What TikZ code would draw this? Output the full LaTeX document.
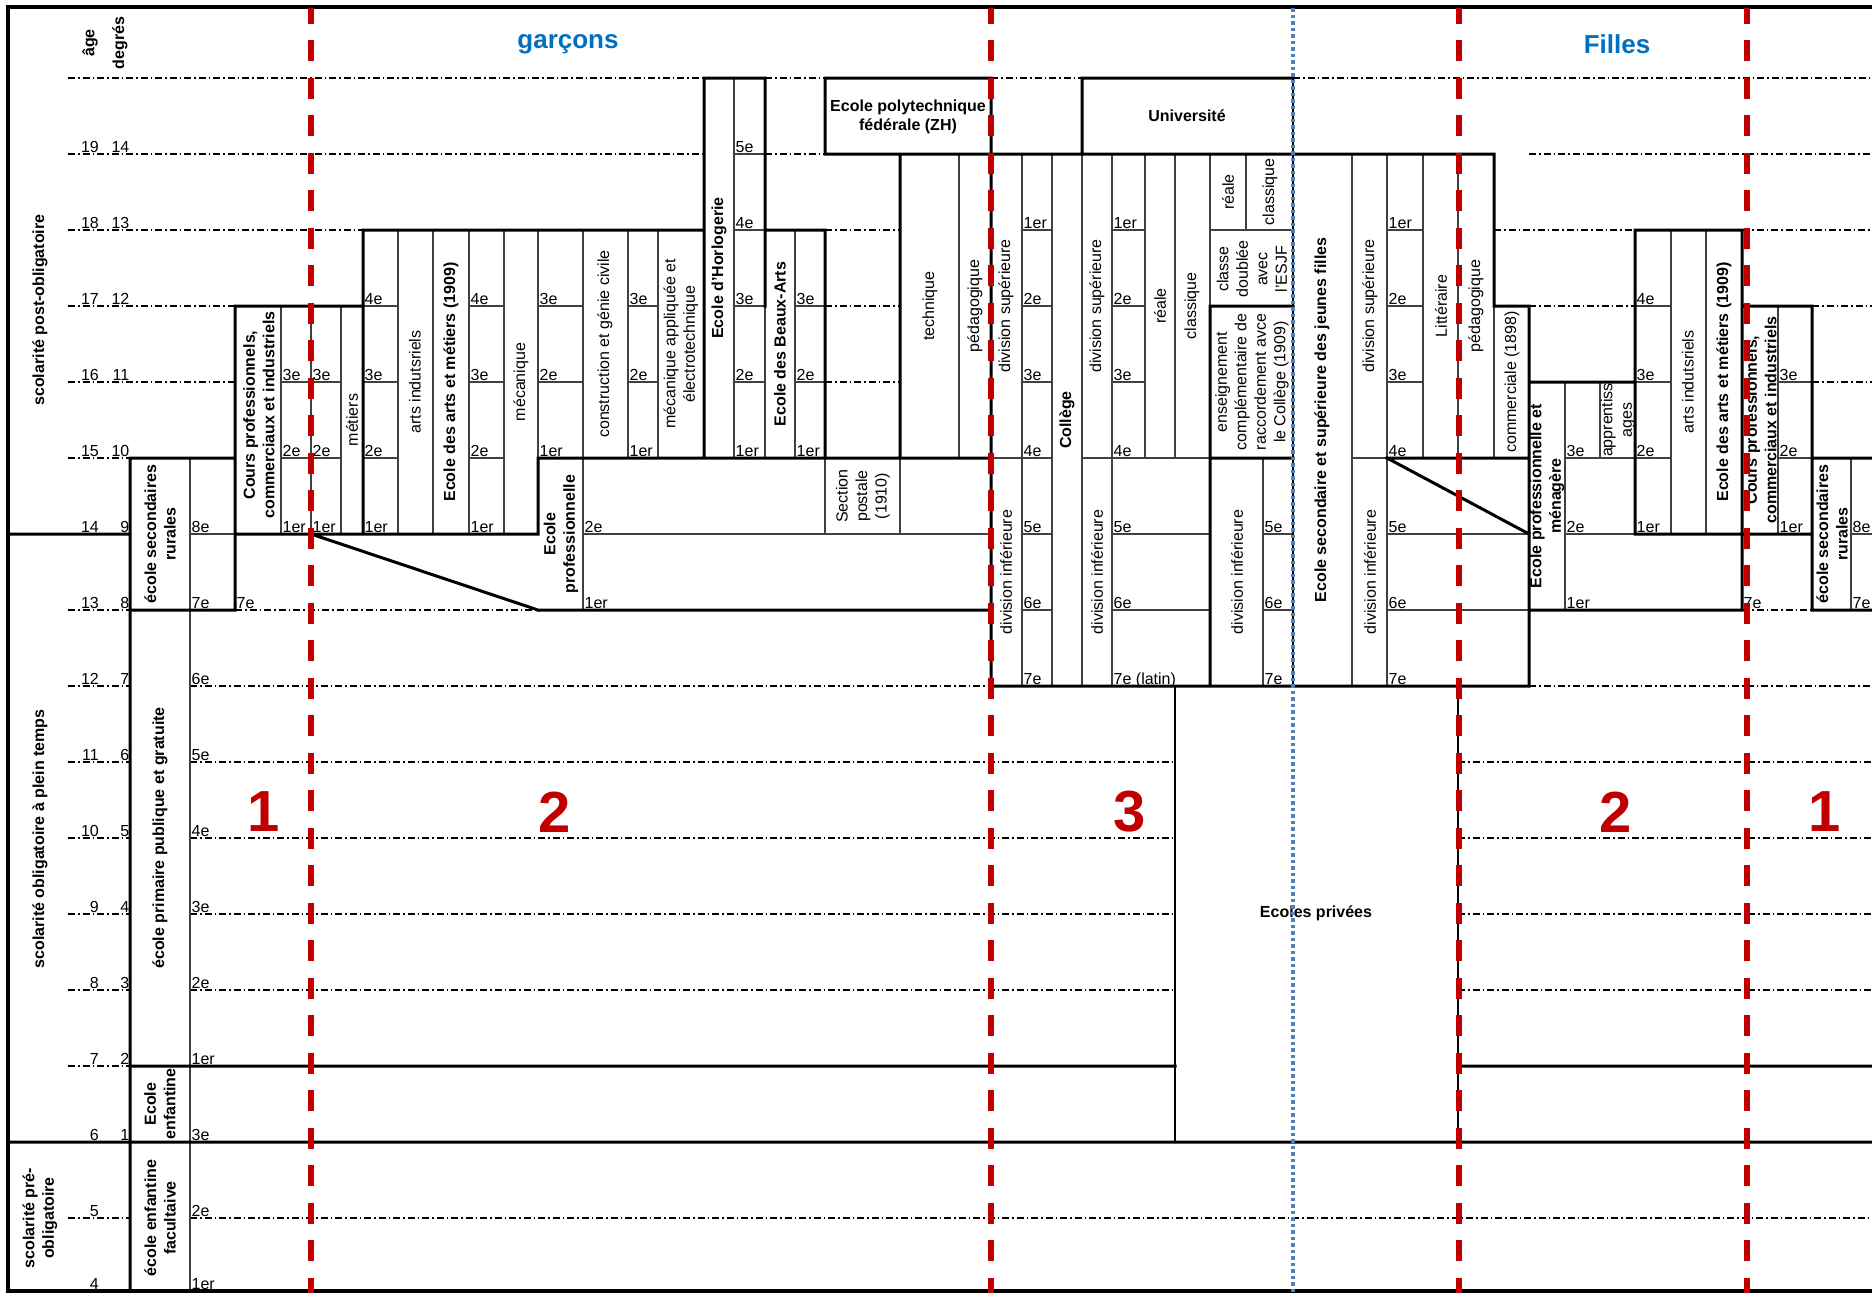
\documentclass[tikz,border=0pt]{standalone}
\usepackage{fontspec}
\setmainfont{Liberation Sans}
\usepackage{tikz}
\definecolor{splitred}{RGB}{192,0,0}
\definecolor{titleblue}{RGB}{0,112,192}
\definecolor{dotblue}{RGB}{79,129,189}
\newcommand{\cellfont}{\fontsize{16}{19.5}\selectfont}
\newcommand{\titlefont}{\fontsize{26}{30}\selectfont\bfseries}
\newcommand{\zonefont}{\fontsize{58}{62}\selectfont\bfseries}

\begin{document}
\begin{tikzpicture}[x=1pt,y=-1pt,
    gridline/.style={line width=1.1pt,dash pattern=on 7pt off 3pt on 1.5pt off 3pt},
    thinline/.style={line width=1.2pt,black!75},
    heavyline/.style={line width=3pt,line cap=rect},
    grade/.style={anchor=base west,inner sep=0pt,font=\cellfont},
    agenum/.style={anchor=base east,inner sep=0pt,font=\cellfont},
    vlabel/.style={rotate=90,align=center,inner sep=0pt,font=\cellfont},
    bvlabel/.style={rotate=90,align=center,inner sep=0pt,font=\cellfont\bfseries},
    hlabel/.style={align=center,inner sep=0pt,font=\cellfont\bfseries},
    divider/.style={splitred,line width=6pt,dash pattern=on 21pt off 16.5pt,dash phase=5.5pt},
    zonenum/.style={text=splitred,font=\zonefont}]
  \useasboundingbox (0,0) rectangle (1872,1293);

  % age lines
  \draw[gridline]
    (68,78) -- (704,78) (765,78) -- (825,78) (991,78) -- (1082,78) (1293,78) -- (1872,78)
    (68,154) -- (704,154) (765,154) -- (825,154) (1529,154) -- (1872,154)
    (68,230) -- (363,230) (825,230) -- (900,230) (1494,230) -- (1635,230) (1742,230) -- (1872,230)
    (68,306) -- (235,306) (825,306) -- (900,306) (1529,306) -- (1635,306) (1812,306) -- (1872,306)
    (68,382) -- (235,382) (825,382) -- (900,382) (1812,382) -- (1872,382)
    (68,458) -- (130,458)
    (68,610) -- (130,610) (235,610) -- (538,610) (1742,610) -- (1812,610)
    (68,686) -- (130,686) (190,686) -- (991,686) (1529,686) -- (1872,686)
    (68,762) -- (130,762) (190,762) -- (1175,762) (1458,762) -- (1872,762)
    (68,838) -- (130,838) (190,838) -- (1175,838) (1458,838) -- (1872,838)
    (68,914) -- (130,914) (190,914) -- (1175,914) (1458,914) -- (1872,914)
    (68,990) -- (130,990) (190,990) -- (1175,990) (1458,990) -- (1872,990)
    (68,1066) -- (130,1066)
    (68,1218) -- (130,1218) (190,1218) -- (1872,1218);

  % cells
  \draw[thinline]
    (734,154) -- (765,154)
    (734,230) -- (765,230) (1022,230) -- (1052,230) (1112,230) -- (1145,230)
      (1210,230) -- (1293,230) (1387,230) -- (1423,230)
    (363,306) -- (398,306) (469,306) -- (504,306) (538,306) -- (583,306)
      (628,306) -- (658,306) (734,306) -- (765,306) (795,306) -- (825,306)
      (1022,306) -- (1052,306) (1112,306) -- (1145,306) (1387,306) -- (1423,306)
      (1635,306) -- (1671,306)
    (281,382) -- (341,382) (363,382) -- (398,382) (469,382) -- (504,382)
      (538,382) -- (583,382) (628,382) -- (658,382) (734,382) -- (765,382)
      (795,382) -- (825,382) (1022,382) -- (1052,382) (1112,382) -- (1145,382)
      (1387,382) -- (1423,382) (1635,382) -- (1671,382) (1778,382) -- (1812,382)
    (281,458) -- (341,458) (363,458) -- (398,458) (469,458) -- (504,458)
      (991,458) -- (1052,458) (1082,458) -- (1210,458) (1352,458) -- (1387,458)
      (1565,458) -- (1671,458) (1778,458) -- (1812,458)
    (190,534) -- (235,534) (583,534) -- (991,534) (1022,534) -- (1052,534)
      (1112,534) -- (1210,534) (1263,534) -- (1293,534) (1387,534) -- (1529,534)
      (1565,534) -- (1635,534) (1851,534) -- (1872,534)
    (1022,610) -- (1052,610) (1112,610) -- (1210,610) (1263,610) -- (1293,610)
      (1387,610) -- (1529,610)
    (190,458) -- (190,1291)
    (281,306) -- (281,534) (311,306) -- (311,534) (341,306) -- (341,534)
    (398,230) -- (398,534) (433,230) -- (433,534) (469,230) -- (469,534) (504,230) -- (504,534)
    (538,230) -- (538,458) (583,230) -- (583,610) (628,230) -- (628,458) (658,230) -- (658,458)
    (734,78) -- (734,458) (765,306) -- (765,458) (795,230) -- (795,458)
    (825,458) -- (825,534) (900,458) -- (900,534) (959,154) -- (959,458)
    (1022,154) -- (1022,686) (1052,154) -- (1052,686) (1082,154) -- (1082,686)
    (1112,154) -- (1112,686) (1145,154) -- (1145,458) (1175,154) -- (1175,458)
    (1210,154) -- (1210,306) (1246,154) -- (1246,230) (1263,458) -- (1263,686)
    (1352,154) -- (1352,686) (1387,154) -- (1387,686) (1423,154) -- (1423,458)
    (1458,154) -- (1458,458) (1494,306) -- (1494,458)
    (1565,382) -- (1565,610) (1600,382) -- (1600,458)
    (1671,230) -- (1671,534) (1706,230) -- (1706,534)
    (1778,306) -- (1778,534) (1851,458) -- (1851,610);
  \draw[line width=2pt] (1175,686) -- (1175,1142) (1458,686) -- (1458,1142) (1293,78) -- (1293,686);

  % school blocks
  \draw[heavyline]
    (704,78) -- (765,78) (825,78) -- (991,78) (1082,78) -- (1293,78)
    (825,154) -- (1494,154)
    (363,230) -- (704,230) (765,230) -- (825,230) (1635,230) -- (1742,230)
    (235,306) -- (363,306) (1210,306) -- (1293,306) (1494,306) -- (1529,306) (1742,306) -- (1812,306)
    (1529,382) -- (1635,382)
    (130,458) -- (235,458) (538,458) -- (991,458) (1210,458) -- (1293,458)
      (1387,458) -- (1529,458) (1812,458) -- (1872,458)
    (8,534) -- (130,534) (235,534) -- (538,534) (1635,534) -- (1812,534)
    (130,610) -- (235,610) (538,610) -- (991,610) (1529,610) -- (1742,610) (1812,610) -- (1872,610)
    (991,686) -- (1529,686)
    (130,1066) -- (1175,1066) (1458,1066) -- (1872,1066)
    (8,1142) -- (1872,1142)
    (130,458) -- (130,1291) (235,306) -- (235,610) (363,230) -- (363,534) (538,458) -- (538,534)
    (704,78) -- (704,458) (765,78) -- (765,306) (825,78) -- (825,154) (825,230) -- (825,458)
    (900,154) -- (900,458) (991,78) -- (991,686) (1082,78) -- (1082,154) (1210,306) -- (1210,686)
    (1494,154) -- (1494,306) (1529,306) -- (1529,686) (1635,230) -- (1635,534)
    (1742,230) -- (1742,610) (1812,306) -- (1812,610)
    (311,534) -- (538,610) (1387,458) -- (1529,534);
  \draw[line width=3.5pt] (1872,7) -- (8,7) -- (8,1291) -- (1872,1291);

  % headings
  \node[text=titleblue,font=\titlefont] (boys) at (568,44) {garçons};
  \node[text=titleblue,font=\titlefont] (girls) at (1617,44) {Filles};
  \node[bvlabel] (agehead) at (90,43) {âge};
  \node[bvlabel] (deghead) at (120,43) {degrés};
  \node[bvlabel] (postoblig) at (40,310) {scolarité post-obligatoire};
  \node[bvlabel] (oblig) at (40,839) {scolarité obligatoire à plein temps};
  \node[bvlabel] (preoblig) at (40,1218) {scolarité pré-\\obligatoire};

  % ages and degrees
  \node[agenum] (a19) at (99,152) {19};  \node[agenum] (d14) at (129.5,152) {14};
  \node[agenum] (a18) at (99,228) {18};  \node[agenum] (d13) at (129.5,228) {13};
  \node[agenum] (a17) at (99,304) {17};  \node[agenum] (d12) at (129.5,304) {12};
  \node[agenum] (a16) at (99,380) {16};  \node[agenum] (d11) at (129.5,380) {11};
  \node[agenum] (a15) at (99,456) {15};  \node[agenum] (d10) at (129.5,456) {10};
  \node[agenum] (a14) at (99,532) {14};  \node[agenum] (d9) at (129.5,532) {9};
  \node[agenum] (a13) at (99,608) {13};  \node[agenum] (d8) at (129.5,608) {8};
  \node[agenum] (a12) at (99,684) {12};  \node[agenum] (d7) at (129.5,684) {7};
  \node[agenum] (a11) at (99,760) {11};  \node[agenum] (d6) at (129.5,760) {6};
  \node[agenum] (a10) at (99,836) {10};  \node[agenum] (d5) at (129.5,836) {5};
  \node[agenum] (a9) at (99,912) {9};    \node[agenum] (d4) at (129.5,912) {4};
  \node[agenum] (a8) at (99,988) {8};    \node[agenum] (d3) at (129.5,988) {3};
  \node[agenum] (a7) at (99,1064) {7};   \node[agenum] (d2) at (129.5,1064) {2};
  \node[agenum] (a6) at (99,1140) {6};   \node[agenum] (d1) at (129.5,1140) {1};
  \node[agenum] (a5) at (99,1216) {5};
  \node[agenum] (a4) at (99,1289) {4};

  % boys
  \node[bvlabel] (rurb) at (160,534) {école secondaires\\rurales};
  \node[bvlabel] (prim) at (160,838) {école primaire publique et gratuite};
  \node[bvlabel] (enf) at (160,1104) {Ecole\\enfantine};
  \node[bvlabel] (enffac) at (160,1218) {école enfantine\\facultaive};
  \node[bvlabel] (cpb) at (259,415) {Cours professionnels,\\commerciaux et industriels};
  \node[vlabel] (metb) at (352,420) {métiers};
  \node[vlabel] (artsb) at (415,382) {arts indutsriels};
  \node[bvlabel] (eamb) at (451,382) {Ecole des arts et métiers (1909)};
  \node[vlabel] (mecb) at (521,382) {mécanique};
  \node[vlabel] (gcb) at (605,344) {construction et génie civile};
  \node[vlabel] (meab) at (681,344) {mécanique appliquée et\\électrotechnique};
  \node[bvlabel] (horl) at (719,268) {Ecole d'Horlogerie};
  \node[bvlabel] (bart) at (780,344) {Ecole des Beaux-Arts};
  \node[bvlabel] (eprob) at (561,534) {Ecole\\professionnelle};
  \node[vlabel] (postale) at (863,496) {Section\\postale\\(1910)};
  \node[hlabel] (poly) at (908,117) {Ecole polytechnique\\fédérale (ZH)};
  \node[hlabel] (univ) at (1187,116) {Université};
  \node[vlabel] (tech) at (930,306) {technique};
  \node[vlabel] (pedb) at (975,306) {pédagogique};
  \node[vlabel] (dsa) at (1006,306) {division supérieure};
  \node[vlabel] (dia) at (1006,572) {division inférieure};
  \node[bvlabel] (coll) at (1067,420) {Collège};
  \node[vlabel] (dsb) at (1097,306) {division supérieure};
  \node[vlabel] (dib) at (1097,572) {division inférieure};
  \node[vlabel] (realb) at (1160,306) {réale};
  \node[vlabel] (classb) at (1192,306) {classique};
  \node[vlabel] (realc) at (1228,192) {réale};
  \node[vlabel] (classc) at (1270,192) {classique};
  \node[vlabel] (esjf) at (1252,269) {classe\\doublée\\avec\\l'ESJF};
  \node[vlabel] (ensc) at (1252,382) {enseignement\\complémentaire de\\raccordement avce\\le Collège (1909)};
  \node[vlabel] (dic) at (1237,572) {division inférieure};

  % girls
  \node[bvlabel] (esjfl) at (1322,420) {Ecole secondaire et supérieure des jeunes filles};
  \node[vlabel] (dsg) at (1370,306) {division supérieure};
  \node[vlabel] (dig) at (1370,572) {division inférieure};
  \node[vlabel] (litt) at (1441,306) {Littéraire};
  \node[vlabel] (pedg) at (1476,306) {pédagogique};
  \node[vlabel] (comm) at (1512,382) {commerciale (1898)};
  \node[bvlabel] (eprog) at (1547,496) {Ecole professionnelle et\\ménagère};
  \node[vlabel] (appr) at (1618,420) {apprentiss\\ages};
  \node[vlabel] (artsg) at (1688,382) {arts indutsriels};
  \node[bvlabel] (eamg) at (1724,382) {Ecole des arts et métiers (1909)};
  \node[bvlabel] (cpg) at (1761,420) {Cours professionnels,\\commerciaux et industriels};
  \node[bvlabel] (rurg) at (1832,534) {école secondaires\\rurales};
  \node[font=\cellfont\bfseries] (priv) at (1316,913) {Ecoles privées};

  % grades, boys
  \node[grade] (pr8) at (191.5,532) {8e};   \node[grade] (pr7) at (191.5,608) {7e};
  \node[grade] (pr6) at (191.5,684) {6e};   \node[grade] (pr5) at (191.5,760) {5e};
  \node[grade] (pr4) at (191.5,836) {4e};   \node[grade] (pr3) at (191.5,912) {3e};
  \node[grade] (pr2) at (191.5,988) {2e};   \node[grade] (pr1) at (191.5,1064) {1er};
  \node[grade] (en3) at (191.5,1140) {3e};  \node[grade] (en2) at (191.5,1216) {2e};
  \node[grade] (en1) at (191.5,1289) {1er};
  \node[grade] (cp7b) at (236.5,608) {7e};
  \node[grade] (cpa3) at (282.5,380) {3e};  \node[grade] (cpa2) at (282.5,456) {2e};  \node[grade] (cpa1) at (282.5,532) {1er};
  \node[grade] (cpb3) at (312.5,380) {3e};  \node[grade] (cpb2) at (312.5,456) {2e};  \node[grade] (cpb1) at (312.5,532) {1er};
  \node[grade] (ama4) at (364.5,304) {4e};  \node[grade] (ama3) at (364.5,380) {3e};
  \node[grade] (ama2) at (364.5,456) {2e};  \node[grade] (ama1) at (364.5,532) {1er};
  \node[grade] (amb4) at (470.5,304) {4e};  \node[grade] (amb3) at (470.5,380) {3e};
  \node[grade] (amb2) at (470.5,456) {2e};  \node[grade] (amb1) at (470.5,532) {1er};
  \node[grade] (mec3) at (539.5,304) {3e};  \node[grade] (mec2) at (539.5,380) {2e};  \node[grade] (mec1) at (539.5,456) {1er};
  \node[grade] (ep2) at (584.5,532) {2e};   \node[grade] (ep1) at (584.5,608) {1er};
  \node[grade] (gc3) at (629.5,304) {3e};   \node[grade] (gc2) at (629.5,380) {2e};   \node[grade] (gc1) at (629.5,456) {1er};
  \node[grade] (ho5) at (735.5,152) {5e};   \node[grade] (ho4) at (735.5,228) {4e};
  \node[grade] (ho3) at (735.5,304) {3e};   \node[grade] (ho2) at (735.5,380) {2e};   \node[grade] (ho1) at (735.5,456) {1er};
  \node[grade] (ba3) at (796.5,304) {3e};   \node[grade] (ba2) at (796.5,380) {2e};   \node[grade] (ba1) at (796.5,456) {1er};
  \node[grade] (ca1) at (1023.5,228) {1er}; \node[grade] (ca2) at (1023.5,304) {2e};
  \node[grade] (ca3) at (1023.5,380) {3e};  \node[grade] (ca4) at (1023.5,456) {4e};
  \node[grade] (ca5) at (1023.5,532) {5e};  \node[grade] (ca6) at (1023.5,608) {6e};  \node[grade] (ca7) at (1023.5,684) {7e};
  \node[grade] (cb1) at (1113.5,228) {1er}; \node[grade] (cb2) at (1113.5,304) {2e};
  \node[grade] (cb3) at (1113.5,380) {3e};  \node[grade] (cb4) at (1113.5,456) {4e};
  \node[grade] (cb5) at (1113.5,532) {5e};  \node[grade] (cb6) at (1113.5,608) {6e};  \node[grade] (cb7) at (1113.5,684) {7e (latin)};
  \node[grade] (cc5) at (1264.5,532) {5e};  \node[grade] (cc6) at (1264.5,608) {6e};  \node[grade] (cc7) at (1264.5,684) {7e};

  % grades, girls
  \node[grade] (jf1) at (1388.5,228) {1er}; \node[grade] (jf2) at (1388.5,304) {2e};
  \node[grade] (jf3) at (1388.5,380) {3e};  \node[grade] (jf4) at (1388.5,456) {4e};
  \node[grade] (jf5) at (1388.5,532) {5e};  \node[grade] (jf6) at (1388.5,608) {6e};  \node[grade] (jf7) at (1388.5,684) {7e};
  \node[grade] (pm3) at (1566.5,456) {3e};  \node[grade] (pm2) at (1566.5,532) {2e};  \node[grade] (pm1) at (1566.5,608) {1er};
  \node[grade] (amg4) at (1636.5,304) {4e}; \node[grade] (amg3) at (1636.5,380) {3e};
  \node[grade] (amg2) at (1636.5,456) {2e}; \node[grade] (amg1) at (1636.5,532) {1er};
  \node[grade] (cp7g) at (1743.5,608) {7e};
  \node[grade] (cpg3) at (1779.5,380) {3e}; \node[grade] (cpg2) at (1779.5,456) {2e}; \node[grade] (cpg1) at (1779.5,532) {1er};
  \node[grade] (rg8) at (1852.5,532) {8e};  \node[grade] (rg7) at (1852.5,608) {7e};

  % zones
  \node[zonenum] (z1b) at (264,812) {1};
  \node[zonenum] (z2b) at (555,812) {2};
  \node[zonenum] (z3) at (1130,812) {3};
  \node[zonenum] (z2g) at (1616,812) {2};
  \node[zonenum] (z1g) at (1825,812) {1};

  \draw[dotblue,line width=3.5pt,dash pattern=on 3.5pt off 3pt] (1293,8) -- (1293,1293);
  \draw[divider] (311,8) -- (311,1293);
  \draw[divider] (991,8) -- (991,1293);
  \draw[divider] (1459,8) -- (1459,1293);
  \draw[divider] (1747,8) -- (1747,1293);
\end{tikzpicture}
\end{document}
